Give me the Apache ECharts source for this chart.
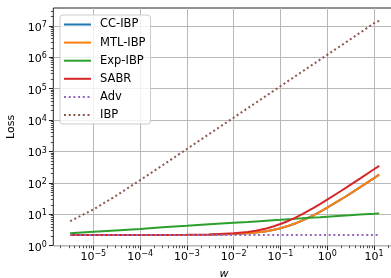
<!DOCTYPE html>
<html>
<head>
<meta charset="utf-8">
<script src="https://cdn.jsdelivr.net/npm/echarts/dist/echarts.min.js"></script>
<style>
  html, body { margin: 0; padding: 0; background: #fff; }
  #main { width: 391px; height: 278px; }
</style>
</head>
<body>
<div id="main"></div>
<script>
// values (w on x, loss on y)
var wVals   = [3.2e-6, 1e-5, 3e-5, 1e-4, 3e-4, 1e-3, 3e-3, 0.01, 0.02, 0.03, 0.05, 0.07, 0.1, 0.15, 0.2, 0.3, 0.5, 0.7, 1, 2, 3, 5, 10, 12.9];
var ccIbp   = [2.2, 2.2, 2.2, 2.2, 2.2, 2.21, 2.24, 2.34, 2.48, 2.62, 2.9, 3.18, 3.6, 4.3, 5.0, 6.4, 9.2, 12.0, 16.2, 30.2, 44.2, 72, 142, 183];
var mtlIbp  = [2.2, 2.2, 2.2, 2.2, 2.2, 2.21, 2.24, 2.34, 2.48, 2.62, 2.9, 3.18, 3.6, 4.3, 5.0, 6.4, 9.2, 12.0, 16.2, 30.2, 44.2, 72, 142, 183];
var expIbp  = [2.48, 2.76, 3.06, 3.42, 3.85, 4.3, 4.8, 5.35, 5.7, 5.95, 6.25, 6.45, 6.65, 6.95, 7.15, 7.45, 7.85, 8.1, 8.4, 9.0, 9.35, 9.85, 10.4, 10.7];
var sabr    = [2.2, 2.2, 2.2, 2.2, 2.21, 2.23, 2.28, 2.47, 2.74, 3.01, 3.55, 4.09, 4.9, 6.25, 7.6, 10.3, 15.7, 21.1, 29.2, 56.2, 83.2, 137, 272, 350];
var adv     = [2.2, 2.2, 2.2, 2.2, 2.2, 2.2, 2.2, 2.2, 2.2, 2.2, 2.2, 2.2, 2.2, 2.2, 2.2, 2.2, 2.2, 2.2, 2.2, 2.2, 2.2, 2.2, 2.2, 2.2];
var ibp     = [6.04, 14.2, 38.2, 122, 362, 1202, 3602, 12000, 24000, 36000, 60000, 84000, 120000, 180000, 240000, 360000, 600000, 840000, 1.2e6, 2.4e6, 3.6e6, 6e6, 1.22e7, 1.45e7];

// decade exponents used as tick labels
var xExps = [-5, -4, -3, -2, -1, 0, 1];
var yExps = [0, 1, 2, 3, 4, 5, 6, 7];

var xMin = -5.855, xMax = 1.44;
var yMin = 0, yMax = 7.57;

// minor ticks at 2..9 x 10^n
function minors(lo, hi) {
    var out = [];
    for (var n = Math.floor(lo) - 1; n <= Math.ceil(hi); n++) {
        for (var k = 2; k <= 9; k++) {
            var v = n + Math.log10(k);
            if (v > lo && v < hi) out.push(v);
        }
    }
    return out;
}

function pairs(ys) {
    return wVals.map(function (w, i) { return [Math.log10(w), Math.log10(ys[i])]; });
}

var FONT = 'DejaVu Sans';
var rich = {
    b: { fontFamily: FONT, fontSize: 11, color: '#000', lineHeight: 14 },
    e: { fontFamily: FONT, fontSize: 8, color: '#000', lineHeight: 9, verticalAlign: 'top' }
};
function powLabel(v) {
    var s = String(Math.round(v)).replace('-', '\u2212');
    return '{b|10}{e|' + s + '}';
}

var myChart = echarts.init(document.getElementById('main'), null, { renderer: 'canvas' });

function lineSeries(name, color, ys, dotted) {
    return {
        name: name,
        type: 'line',
        xAxisIndex: 0,
        yAxisIndex: 0,
        symbol: 'none',
        smooth: false,
        lineStyle: {
            color: color,
            width: 2,
            type: dotted ? [2, 2.7] : 'solid',
            cap: 'butt'
        },
        itemStyle: { color: color },
        data: pairs(ys)
    };
}

var option = {
    animation: false,
    backgroundColor: '#fff',
    grid: {
        left: 53.3,
        top: 8,
        right: -3.6,
        bottom: 32.3,
        outerBoundsMode: 'none',
        containLabel: false,
        show: true,
        borderColor: '#222',
        borderWidth: 1,
        backgroundColor: 'transparent'
    },
    legend: {
        orient: 'vertical',
        left: 60,
        top: 15,
        padding: [3.5, 5, 3, 3],
        itemWidth: 27,
        itemHeight: 12,
        itemGap: 6.1,
        backgroundColor: 'rgba(255,255,255,0.8)',
        borderColor: '#cccccc',
        borderWidth: 1,
        borderRadius: 3,
        itemStyle: { opacity: 0 },
        textStyle: { fontFamily: FONT, fontSize: 11.5, color: '#000', padding: [0, 0, 0, 4], lineHeight: 12 },
        data: ['CC-IBP', 'MTL-IBP', 'Exp-IBP', 'SABR', 'Adv', 'IBP']
    },
    xAxis: [
        {
            type: 'value',
            min: xMin,
            max: xMax,
            position: 'bottom',
            name: 'w',
            nameLocation: 'middle',
            nameGap: 23,
            nameTextStyle: { fontFamily: FONT, fontSize: 11, fontStyle: 'italic', color: '#000' },
            axisLine: { show: false, onZero: false },
            axisTick: { show: true, customValues: xExps, length: 4.4, lineStyle: { color: '#222', width: 1 } },
            axisLabel: { show: true, customValues: xExps, margin: 4, formatter: powLabel, rich: rich },
            splitLine: { show: true, lineStyle: { color: '#b8b8b8', width: 1 } }
        },
        {
            type: 'value',
            min: xMin,
            max: xMax,
            position: 'bottom',
            axisLine: { show: false, onZero: false },
            axisTick: { show: true, customValues: minors(xMin, xMax), length: 2.5, lineStyle: { color: '#222', width: 0.8 } },
            axisLabel: { show: false },
            splitLine: { show: false }
        }
    ],
    yAxis: [
        {
            type: 'value',
            min: yMin,
            max: yMax,
            position: 'left',
            name: 'Loss',
            nameLocation: 'middle',
            nameGap: 31,
            nameTextStyle: { fontFamily: FONT, fontSize: 11, color: '#000' },
            axisLine: { show: false, onZero: false },
            axisTick: { show: true, customValues: yExps, length: 4.4, lineStyle: { color: '#222', width: 1 } },
            axisLabel: { show: true, customValues: yExps, margin: 6.5, formatter: powLabel, rich: rich, padding: [4, 0, 0, 0] },
            splitLine: { show: true, lineStyle: { color: '#b8b8b8', width: 1 } }
        },
        {
            type: 'value',
            min: yMin,
            max: yMax,
            position: 'left',
            offset: 0,
            axisLine: { show: false, onZero: false },
            axisTick: { show: true, customValues: minors(yMin, yMax), length: 2.5, lineStyle: { color: '#222', width: 0.8 } },
            axisLabel: { show: false },
            splitLine: { show: false }
        }
    ],
    series: [
        lineSeries('CC-IBP', '#1f77b4', ccIbp, false),
        lineSeries('MTL-IBP', '#ff7f0e', mtlIbp, false),
        lineSeries('Exp-IBP', '#2ca02c', expIbp, false),
        lineSeries('SABR', '#d62728', sabr, false),
        lineSeries('Adv', '#9467bd', adv, true),
        lineSeries('IBP', '#8c564b', ibp, true)
    ]
};

myChart.setOption(option);
</script>
</body>
</html>
